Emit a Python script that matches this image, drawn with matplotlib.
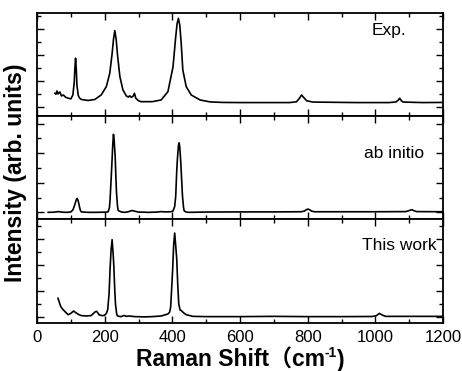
import matplotlib
matplotlib.use("Agg")
import matplotlib.pyplot as plt
from matplotlib.ticker import MultipleLocator, NullFormatter

plt.rcParams['font.family'] = ['Liberation Sans', 'DejaVu Sans', 'Noto Sans CJK SC']

# ---- data ----
exp_x = [53, 56, 59, 62, 65, 68, 72, 78, 85, 92, 100, 106, 110, 112, 114, 116, 118, 122, 126, 131,
         151, 171, 190, 205, 215, 222, 226, 230, 234, 238, 245, 254, 264, 270, 274, 279, 284, 288,
         292, 300, 307, 341, 367, 387, 402, 410, 414, 418, 422, 426, 431, 441, 456, 482, 512, 550,
         600, 700, 747, 767, 776, 782, 790, 797, 815, 943, 1041, 1061, 1068, 1072, 1077, 1082,
         1139, 1198]
exp_y = [1.07, 1.0, 1.25, 1.02, 1.12, 1.17, 0.87, 0.94, 0.76, 0.70, 0.64, 0.94, 1.9, 3.0, 3.76, 3.0,
         1.7, 0.9, 0.7, 0.6, 0.52, 0.6, 0.95, 1.59, 2.6, 4.1, 5.2, 5.88, 5.2, 4.0, 2.35, 1.33, 0.87,
         0.78, 0.88, 0.76, 0.85, 1.07, 0.7, 0.5, 0.43, 0.43, 0.56, 1.2, 3.1, 5.4, 6.4, 6.82, 6.3, 5.0,
         2.86, 1.58, 0.94, 0.56, 0.41, 0.37, 0.36, 0.36, 0.36, 0.42, 0.7, 0.94, 0.7, 0.5, 0.4, 0.36,
         0.36, 0.41, 0.55, 0.69, 0.5, 0.4, 0.36, 0.37]

abi_x = [33, 50, 63, 75, 90, 100, 106, 110, 113, 116, 119, 122, 125, 128, 131, 150, 170, 200, 210,
         214, 216, 219, 221, 224, 226, 228, 231, 233, 235, 238, 240, 250, 260, 270, 276, 281, 287,
         299, 330, 355, 367, 380, 395, 402, 407, 410, 413, 415, 418, 420, 422, 425, 428, 430, 433,
         435, 440, 447, 500, 600, 700, 780, 790, 796, 801, 806, 812, 820, 900, 1000, 1090, 1100,
         1108, 1114, 1122, 1200]
abi_y = [0.0, 0.01, 0.05, 0.01, 0.0, 0.03, 0.16, 0.4, 0.61, 0.85, 0.94, 0.75, 0.43, 0.15, 0.03, 0.0,
         0.0, 0.01, 0.03, 0.3, 0.88, 2.2, 3.13, 4.6, 5.27, 4.9, 3.8, 2.5, 1.33, 0.4, 0.12, 0.02, 0.0,
         0.04, 0.09, 0.12, 0.09, 0.02, 0.0, 0.02, 0.05, 0.03, 0.04, 0.09, 0.4, 1.1, 2.8, 3.6, 4.5,
         4.7, 4.4, 3.35, 2.0, 1.1, 0.35, 0.1, 0.03, 0.0, 0.02, 0.03, 0.03, 0.04, 0.08, 0.18, 0.22,
         0.17, 0.08, 0.04, 0.04, 0.04, 0.05, 0.12, 0.18, 0.11, 0.05, 0.04]

tw_x = [62, 66, 70, 75, 80, 86, 92, 100, 108, 116, 124, 131, 145, 160, 167, 172, 176, 180, 184, 192,
        199, 205, 209, 213, 216, 219, 222, 225, 227, 230, 232, 235, 237, 243, 249, 255, 259, 264,
        272, 278, 290, 318, 340, 367, 380, 387, 392, 395, 398, 401, 404, 407, 410, 413, 416, 419,
        423, 427, 433, 441, 461, 500, 600, 700, 800, 900, 990, 1003, 1012, 1020, 1030, 1100, 1200]
tw_y = [1.46, 1.15, 0.84, 0.65, 0.51, 0.35, 0.2, 0.3, 0.48, 0.33, 0.2, 0.13, 0.1, 0.13, 0.3, 0.42,
        0.46, 0.33, 0.18, 0.13, 0.14, 0.3, 0.59, 1.8, 3.72, 5.2, 5.97, 4.9, 3.97, 2.0, 1.02, 0.35,
        0.12, 0.07, 0.05, 0.12, 0.13, 0.07, 0.1, 0.08, 0.05, 0.03, 0.05, 0.1, 0.2, 0.25, 0.4, 0.77,
        2.2, 3.72, 5.6, 6.48, 5.5, 4.48, 2.5, 1.02, 0.55, 0.51, 0.35, 0.2, 0.07, 0.05, 0.05, 0.07,
        0.05, 0.05, 0.06, 0.12, 0.3, 0.18, 0.07, 0.07, 0.07]

panel_labels = ["Exp.", "ab initio", "This work"]
xticks = [0, 200, 400, 600, 800, 1000, 1200]

# ---- figure ----
W, H = 462, 371
fig = plt.figure(figsize=(W / 100, H / 100), dpi=100)

def fx(px):
    return px / W

def fy(py):
    return 1 - py / H

left, right = 37, 443
panels = [(13, 116, (-0.67, 7.23)), (116, 219, (-0.45, 6.51)), (219, 323, (-0.44, 7.56))]
series = [(exp_x, exp_y), (abi_x, abi_y), (tw_x, tw_y)]

axes = []
for i, ((top, bot, ylim), (xs, ys)) in enumerate(zip(panels, series)):
    ax = fig.add_axes([fx(left), fy(bot), fx(right) - fx(left), (bot - top) / H])
    ax.plot(xs, ys, color='black', lw=1.2)
    ax.set_xlim(0, 1200)
    ax.set_ylim(*ylim)
    ax.xaxis.set_major_locator(MultipleLocator(200))
    ax.xaxis.set_minor_locator(MultipleLocator(100))
    ax.yaxis.set_major_locator(MultipleLocator(2))
    ax.yaxis.set_minor_locator(MultipleLocator(1))
    ax.tick_params(which='both', direction='in', top=True, right=True, width=1.0)
    ax.tick_params(which='major', length=5)
    ax.tick_params(which='minor', length=3)
    ax.yaxis.set_major_formatter(NullFormatter())
    for s in ax.spines.values():
        s.set_linewidth(1.3)
    if i < 2:
        ax.xaxis.set_major_formatter(NullFormatter())
    else:
        ax.set_xticks(xticks)
        ax.set_xticklabels([str(t) for t in xticks], fontsize=12)
        ax.tick_params(axis='x', which='major', pad=5)
    axes.append(ax)

fig.text(fx(406.7), fy(30), panel_labels[0], ha='right', va='center', fontsize=12.5)
fig.text(fx(424), fy(153), panel_labels[1], ha='right', va='center', fontsize=12.5)
fig.text(fx(437), fy(245.7), panel_labels[2], ha='right', va='center', fontsize=12.5)

# x label built from pieces: main text, raised superscript, closing paren
fig.canvas.draw()
renderer = fig.canvas.get_renderer()
base_py = 367
t1 = fig.text(0, fy(base_py), "Raman Shift（cm", ha='left', va='baseline',
              fontsize=16.5, fontweight='bold')
t2 = fig.text(0, fy(base_py - 10), "-1", ha='left', va='baseline',
              fontsize=10, fontweight='bold')
t3 = fig.text(0, fy(base_py), ")", ha='left', va='baseline',
              fontsize=16.5, fontweight='bold')
w1 = t1.get_window_extent(renderer).width
w2 = t2.get_window_extent(renderer).width
w3 = t3.get_window_extent(renderer).width
x0 = 240 - (w1 + w2 + w3) / 2
t1.set_x(fx(x0))
t2.set_x(fx(x0 + w1))
t3.set_x(fx(x0 + w1 + w2))

fig.text(fx(16), fy(173), "Intensity (arb. units)", ha='center', va='center',
         rotation=90, fontsize=16.5, fontweight='bold')

fig.savefig("out.png", dpi=100)
